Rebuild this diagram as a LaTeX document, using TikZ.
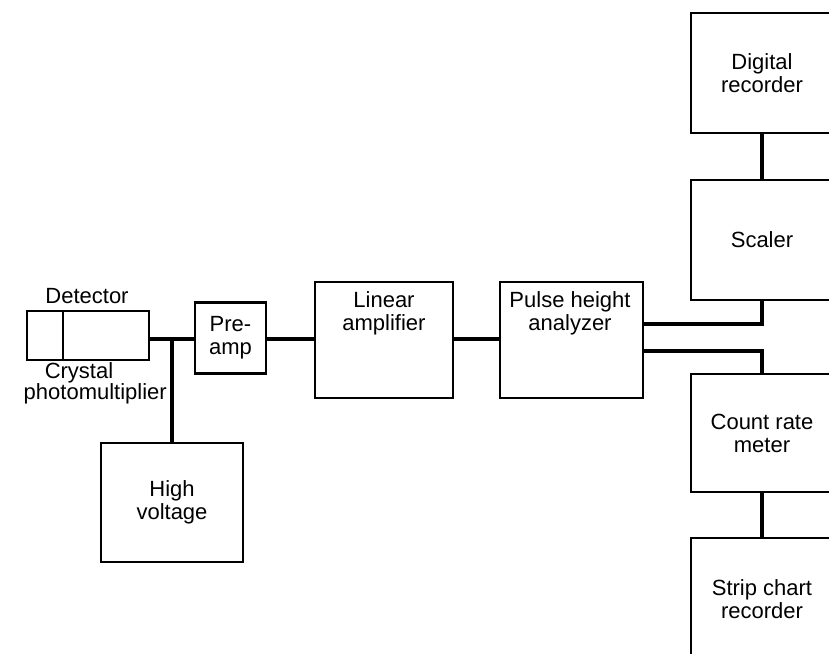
\documentclass[tikz,border=0pt]{standalone}
\usepackage{fontspec}
\setmainfont{Liberation Sans}
\begin{document}
\begin{tikzpicture}[x=1pt,y=-1pt,
  blk/.style={draw, line width=2.4pt, inner sep=0pt, outer sep=0pt, align=center,
    font=\fontsize{22}{23}\selectfont},
  lbl/.style={inner sep=0pt, align=center, font=\fontsize{22}{23}\selectfont},
  conn/.style={line width=4.8pt}]
\useasboundingbox (0,0) rectangle (829,653);
\clip (0,0) rectangle (829,653);
% detector
\node[blk, minimum width=122pt, minimum height=49pt] (det) at (88,335.5) {};
\draw[line width=2.4pt] ([xshift=-25pt]det.north) -- ([xshift=-25pt]det.south);
\node[lbl, anchor=base] (detl) at (87,303) {Detector};
\node[lbl, anchor=base] (cry) at (79,378) {Crystal};
\node[lbl, anchor=base east] (pm) at (167,399) {photomultiplier};
% boxes
\node[blk, minimum width=71pt, minimum height=71pt] (pre) at (230.5,338) {Pre-\\amp};
\node[blk, minimum width=138pt, minimum height=116pt] (lin) at (384,340) {};
\node[lbl] (lintxt) at (384,313) {Linear\\amplifier};
\node[blk, minimum width=143pt, minimum height=116pt] (pha) at (571.5,340) {};
\node[lbl] (phatxt) at (570,313) {Pulse height\\analyzer};
\node[blk, minimum width=142pt, minimum height=119pt] (hv) at (172,502.5) {High\\voltage};
\node[blk, minimum width=142pt, minimum height=120pt] (dig) at (762,73) {Digital\\recorder};
\node[blk, minimum width=142pt, minimum height=120pt] (sca) at (762,240) {Scaler};
\node[blk, minimum width=142pt, minimum height=118pt] (crm) at (762,433) {Count rate\\meter};
\node[blk, minimum width=142pt, minimum height=122pt] (scr) at (762,599) {Strip chart\\recorder};
% connectors
\coordinate (J) at (172,339);
\coordinate (yu) at (0,324);
\coordinate (yl) at (0,351);
\draw[conn] (det.east |- J) -- (pre.west |- J);
\draw[conn] (J) -- (hv.north);
\draw[conn] (pre.east |- J) -- (lin.west |- J);
\draw[conn] (lin.east |- J) -- (pha.west |- J);
\draw[conn] (pha.east |- yu) -| (sca.south);
\draw[conn] (pha.east |- yl) -| (crm.north);
\draw[conn] (dig.south) -- (sca.north);
\draw[conn] (crm.south) -- (scr.north);
\end{tikzpicture}
\end{document}
